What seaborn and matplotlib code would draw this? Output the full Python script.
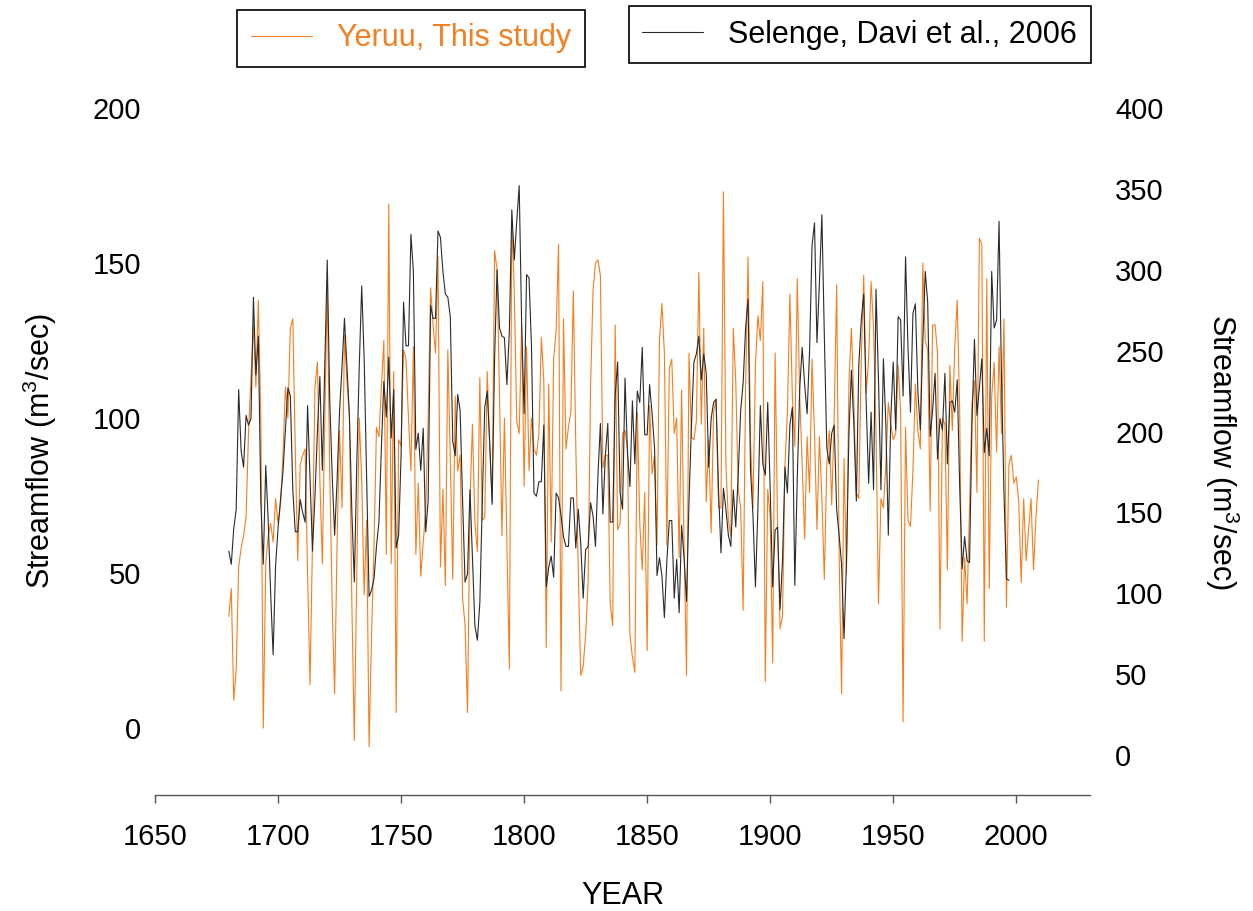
import numpy as np
import pandas as pd
import matplotlib
matplotlib.use('Agg')
import matplotlib.pyplot as plt
import seaborn as sns

# Yeruu reconstruction (this study), 1680-2009, m3/sec
yeruu_start = 1680
yeruu_flow = [
    36, 45, 9, 19, 52, 58, 62, 68, 95, 113,
    130, 110, 138, 100, 0, 53, 62, 66, 60, 74,
    66, 72, 88, 110, 100, 129, 132, 90, 54, 85,
    88, 90, 50, 14, 60, 110, 118, 80, 53, 100,
    142, 83, 40, 11, 60, 96, 71, 127, 112, 101,
    40, -4, 50, 100, 80, 43, 67, -6, 30, 59,
    97, 94, 110, 125, 56, 169, 53, 115, 5, 93,
    91, 122, 119, 100, 83, 123, 56, 79, 49, 60,
    70, 100, 142, 130, 121, 152, 52, 77, 46, 122,
    87, 48, 107, 83, 88, 42, 33, 5, 73, 98,
    66, 57, 113, 67, 68, 115, 91, 73, 154, 148,
    107, 62, 100, 59, 19, 164, 141, 99, 95, 130,
    78, 123, 83, 100, 90, 88, 95, 126, 112, 26,
    111, 60, 119, 128, 156, 12, 132, 90, 97, 102,
    141, 91, 51, 17, 20, 30, 47, 110, 141, 150,
    151, 146, 84, 88, 88, 40, 33, 130, 64, 66,
    95, 96, 90, 30, 23, 18, 102, 66, 51, 76,
    25, 104, 82, 88, 59, 125, 137, 121, 59, 116,
    119, 95, 100, 55, 109, 59, 17, 121, 94, 93,
    99, 147, 98, 129, 73, 93, 63, 102, 106, 71,
    71, 173, 85, 67, 62, 129, 112, 77, 71, 38,
    110, 152, 93, 71, 117, 133, 125, 144, 15, 77,
    68, 21, 121, 65, 32, 36, 85, 102, 140, 107,
    91, 145, 107, 85, 61, 94, 76, 119, 95, 64,
    94, 74, 48, 85, 96, 72, 100, 143, 56, 11,
    87, 50, 112, 129, 105, 76, 74, 119, 146, 108,
    119, 144, 129, 95, 40, 74, 71, 85, 105, 98,
    93, 95, 117, 102, 2, 97, 67, 65, 83, 111,
    96, 90, 150, 125, 122, 70, 130, 130, 121, 32,
    100, 98, 51, 117, 96, 123, 138, 102, 28, 55,
    40, 71, 105, 112, 76, 158, 156, 28, 145, 45,
    107, 118, 89, 123, 95, 132, 39, 85, 88, 79,
    81, 73, 47, 74, 54, 64, 74, 51, 68, 80,
]

# Selenge reconstruction (Davi et al., 2006), 1680-1997, m3/sec
selenge_start = 1680
selenge_flow = [
    126, 118, 140, 152, 226, 188, 178, 210, 204, 208,
    283, 235, 259, 157, 118, 179, 145, 100, 62, 117,
    140, 158, 175, 201, 227, 222, 164, 138, 138, 158,
    150, 144, 216, 170, 126, 160, 200, 234, 176, 240,
    306, 220, 173, 136, 170, 213, 240, 270, 240, 210,
    150, 107, 180, 240, 290, 245, 170, 98, 102, 109,
    129, 144, 190, 231, 209, 246, 196, 226, 128, 136,
    185, 280, 253, 253, 322, 299, 189, 199, 176, 202,
    138, 157, 278, 270, 270, 324, 320, 299, 285, 283,
    271, 194, 185, 223, 213, 157, 107, 112, 164, 122,
    80, 71, 94, 157, 215, 225, 194, 155, 245, 300,
    264, 259, 258, 229, 262, 337, 306, 330, 352, 266,
    211, 297, 295, 252, 162, 160, 169, 169, 204, 104,
    116, 123, 110, 162, 159, 148, 135, 129, 129, 159,
    159, 128, 152, 131, 97, 127, 129, 156, 148, 129,
    173, 205, 149, 185, 205, 144, 144, 222, 243, 162,
    152, 233, 187, 166, 219, 180, 225, 218, 252, 198,
    198, 229, 211, 190, 111, 122, 111, 85, 120, 145,
    145, 97, 121, 88, 142, 122, 95, 157, 204, 243,
    248, 259, 232, 248, 236, 178, 208, 218, 220, 164,
    125, 165, 152, 136, 129, 164, 141, 173, 213, 230,
    264, 282, 176, 148, 104, 152, 216, 180, 173, 218,
    164, 104, 139, 141, 90, 120, 178, 162, 204, 215,
    105, 171, 227, 252, 229, 211, 250, 315, 329, 255,
    292, 334, 259, 190, 180, 199, 204, 152, 136, 118,
    72, 120, 199, 238, 204, 157, 241, 269, 285, 218,
    168, 212, 164, 288, 232, 164, 245, 204, 136, 208,
    243, 201, 271, 269, 222, 308, 252, 212, 273, 279,
    225, 201, 255, 299, 280, 197, 213, 236, 183, 208,
    201, 236, 180, 218, 219, 212, 232, 166, 115, 135,
    120, 119, 205, 257, 210, 227, 245, 187, 202, 185,
    299, 264, 269, 330, 232, 162, 109, 108,
]

x_ticks = [1650, 1700, 1750, 1800, 1850, 1900, 1950, 2000]
left_ticks = [0, 50, 100, 150, 200]
right_ticks = [0, 50, 100, 150, 200, 250, 300, 350, 400]

yeruu = pd.DataFrame({'year': np.arange(yeruu_start, yeruu_start + len(yeruu_flow)),
                      'flow': yeruu_flow})
selenge = pd.DataFrame({'year': np.arange(selenge_start, selenge_start + len(selenge_flow)),
                        'flow': selenge_flow})

sns.set_style('white')
plt.rcParams['font.family'] = ['Liberation Sans', 'DejaVu Sans']
plt.rcParams['mathtext.fontset'] = 'custom'
plt.rcParams['mathtext.rm'] = 'Liberation Sans'
plt.rcParams['mathtext.it'] = 'Liberation Sans'
for key in ['text.color', 'axes.labelcolor', 'xtick.color', 'ytick.color']:
    plt.rcParams[key] = 'black'

orange = '#f47f20'
dark = '#2b2b2b'

fig = plt.figure(figsize=(12.53, 9.11), dpi=100)
ax = fig.add_axes([0.1237, 0.1273, 0.7463, 0.7541])
ax2 = ax.twinx()

sns.lineplot(data=yeruu, x='year', y='flow', ax=ax, color=orange, lw=0.8)
sns.lineplot(data=selenge, x='year', y='flow', ax=ax2, color=dark, lw=0.8)

ax.set_xlim(1650, 2030)
ax.set_ylim(-21.6, 200)
ax2.set_ylim(-24.7, 400)

ax.set_xticks(x_ticks)
ax.set_yticks(left_ticks)
ax2.set_yticks(right_ticks)

for a in (ax, ax2):
    for s in ['top', 'left', 'right']:
        a.spines[s].set_visible(False)
ax2.spines['bottom'].set_visible(False)
ax.spines['bottom'].set_color('#555555')
ax.spines['bottom'].set_linewidth(1.0)

ax.tick_params(axis='x', labelsize=21, length=6, width=1, color='#555555', pad=14, bottom=True)
ax.tick_params(axis='y', labelsize=21, length=0, pad=10)
ax2.tick_params(axis='y', labelsize=21, length=0, pad=18)

ax.set_xlabel('YEAR', fontsize=22, labelpad=22)
ax.set_ylabel('Streamflow (m$^3$/sec)', fontsize=22, labelpad=24)
ax2.set_ylabel('Streamflow (m$^3$/sec)', fontsize=22, labelpad=28, rotation=270, va='bottom')

h1 = ax.get_lines()[0]
h2 = ax2.get_lines()[0]
leg1 = fig.legend([h1], ['Yeruu, This study'], loc='center', bbox_to_anchor=(0.328, 0.958),
                  fontsize=22, frameon=True, fancybox=False, framealpha=1,
                  edgecolor='black', handlelength=2.0, borderpad=0.45)
leg1.get_texts()[0].set_color(orange)
leg1.get_frame().set_linewidth(1.2)
leg2 = fig.legend([h2], ['Selenge, Davi et al., 2006'], loc='center', bbox_to_anchor=(0.686, 0.962),
                  fontsize=22, frameon=True, fancybox=False, framealpha=1,
                  edgecolor='black', handlelength=2.0, borderpad=0.45)
leg2.get_frame().set_linewidth(1.2)

fig.savefig('out.png', dpi=100)
